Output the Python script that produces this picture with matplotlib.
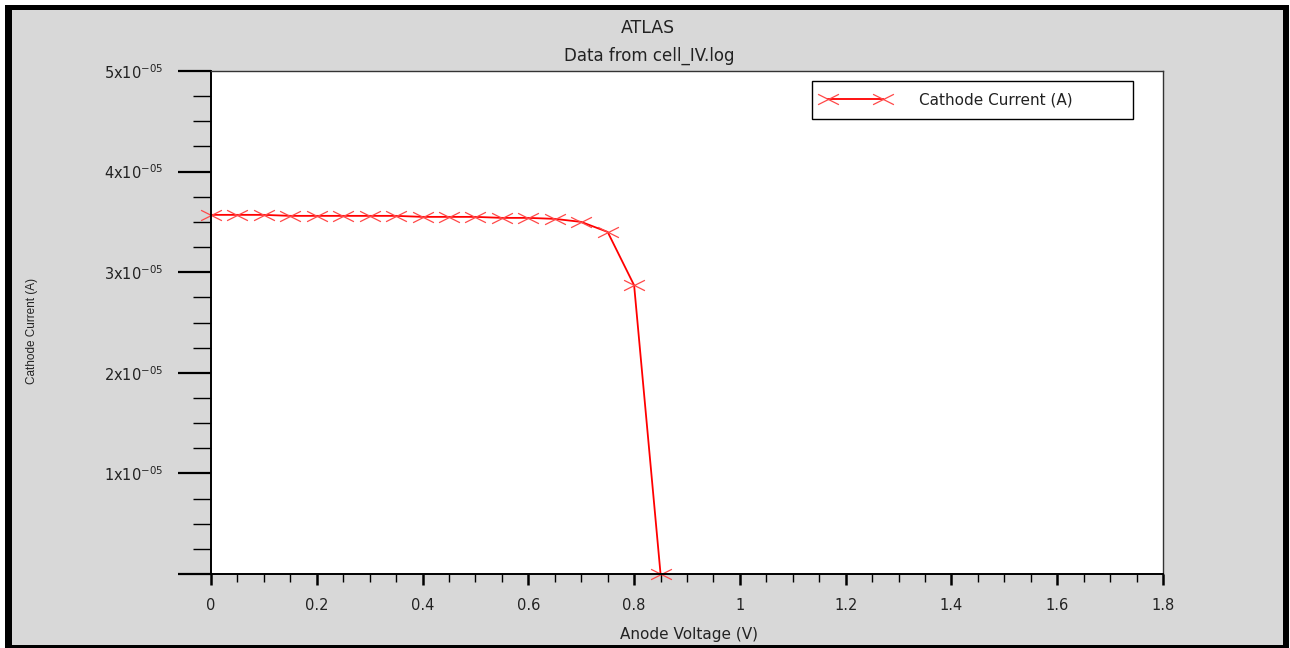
import matplotlib.pyplot as plt
from matplotlib.patches import Rectangle
from matplotlib.path import Path
from matplotlib.ticker import MultipleLocator, FixedLocator

voltage = [0.0, 0.05, 0.1, 0.15, 0.2, 0.25, 0.3, 0.35, 0.4, 0.45,
           0.5, 0.55, 0.6, 0.65, 0.7, 0.75, 0.8, 0.85]
current = [3.57e-5, 3.57e-5, 3.57e-5, 3.56e-5, 3.56e-5, 3.56e-5, 3.56e-5, 3.56e-5, 3.55e-5, 3.55e-5,
           3.55e-5, 3.54e-5, 3.54e-5, 3.53e-5, 3.50e-5, 3.40e-5, 2.87e-5, 0.0]

y_ticks = [0, 1e-5, 2e-5, 3e-5, 4e-5, 5e-5]
y_tick_labels = ['', '1x10$^{-05}$', '2x10$^{-05}$', '3x10$^{-05}$', '4x10$^{-05}$', '5x10$^{-05}$']
x_ticks = [0, 0.2, 0.4, 0.6, 0.8, 1.0, 1.2, 1.4, 1.6, 1.8]
x_tick_labels = ['0', '0.2', '0.4', '0.6', '0.8', '1', '1.2', '1.4', '1.6', '1.8']

plt.rcParams['font.family'] = ['DejaVu Sans']
plt.rcParams['mathtext.fontset'] = 'dejavusans'
plt.rcParams['mathtext.default'] = 'regular'

W, H = 1290, 648
fig = plt.figure(figsize=(W / 100, H / 100), dpi=100)
fig.patch.set_facecolor('white')

# Marco negro y fondo gris
fig.add_artist(Rectangle((5 / W, 0), 1284 / W, 643 / H, transform=fig.transFigure,
                         facecolor='black', edgecolor='none', zorder=-2))
fig.add_artist(Rectangle((12 / W, 3 / H), 1271 / W, 635 / H, transform=fig.transFigure,
                         facecolor='#d8d8d8', edgecolor='none', zorder=-1))

ax = fig.add_axes([211 / W, 1 - 574 / H, 952 / W, 503 / H])
ax.set_facecolor('white')

# Marcador en forma de X aplanada
flat_x = Path([(-1, -0.5), (1, 0.5), (-1, 0.5), (1, -0.5)],
              [Path.MOVETO, Path.LINETO, Path.MOVETO, Path.LINETO])

ax.plot(voltage, current, color='#ff0000', linewidth=1.3, marker=flat_x,
        markersize=15, markeredgewidth=0.9, markeredgecolor='#ff4848',
        label='Cathode Current (A)', clip_on=False)

ax.set_xlim(0, 1.8)
ax.set_ylim(0, 5e-5)

ax.yaxis.set_major_locator(FixedLocator(y_ticks))
ax.set_yticklabels(y_tick_labels)
ax.yaxis.set_minor_locator(MultipleLocator(0.25e-5))
ax.xaxis.set_major_locator(FixedLocator(x_ticks))
ax.set_xticklabels(x_tick_labels)
ax.xaxis.set_minor_locator(MultipleLocator(0.05))

ax.tick_params(axis='y', which='major', direction='out', length=24, width=1.6,
               pad=10, labelsize=10.5, labelcolor='#222222')
ax.tick_params(axis='y', which='minor', direction='out', length=13, width=1.0)
ax.tick_params(axis='x', which='major', direction='out', length=8, width=1.8,
               pad=9, labelsize=10.5, labelcolor='#222222')
ax.tick_params(axis='x', which='minor', direction='out', length=6, width=1.0)

for side in ['left', 'bottom']:
    ax.spines[side].set_linewidth(1.4)
for side in ['top', 'right']:
    ax.spines[side].set_linewidth(1.0)
    ax.spines[side].set_color('#333333')

# Titulos
fig.text(648 / W, 1 - 28 / H, 'ATLAS', ha='center', va='center', fontsize=12.5, color='#222222')
fig.text(649 / W, 1 - 56 / H, 'Data from cell_IV.log', ha='center', va='center',
         fontsize=12, color='#222222')
fig.text(689 / W, 1 - 635 / H, 'Anode Voltage (V)', ha='center', va='center',
         fontsize=11, color='#222222')
fig.text(32 / W, 1 - 331 / H, 'Cathode Current (A)', ha='center', va='center', rotation=90,
         fontsize=8.5, color='#222222', family=['Liberation Sans', 'DejaVu Sans'])

leg = ax.legend(loc='upper left', bbox_to_anchor=(0.631, 0.9046, 0.3375, 0.0754),
                mode='expand', borderaxespad=0, fancybox=False, framealpha=1,
                edgecolor='black', fontsize=11, numpoints=2, handlelength=4.2,
                handletextpad=2.1, borderpad=0.75)
leg.get_frame().set_linewidth(1.0)
for t in leg.get_texts():
    t.set_color('#222222')

fig.savefig('out.png', dpi=100, facecolor=fig.get_facecolor())
